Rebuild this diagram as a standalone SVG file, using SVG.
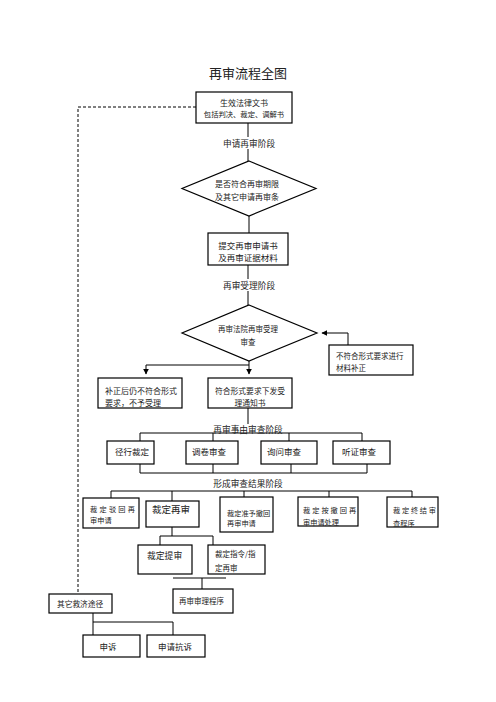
<svg xmlns="http://www.w3.org/2000/svg" width="496" height="702" viewBox="0 0 496 702">
<defs>
<marker id="arr" viewBox="0 0 10 10" refX="9" refY="5" markerWidth="6" markerHeight="6" markerUnits="userSpaceOnUse" orient="auto">
<path d="M0,0 L10,5 L0,10 Z" fill="#000"/>
</marker>
<style>
.box{fill:#fff;stroke:#000;stroke-width:1.2}
.ln{fill:none;stroke:#000;stroke-width:1}
.dash{fill:none;stroke:#000;stroke-width:1;stroke-dasharray:3,2}
text{font-family:"Noto Sans CJK SC","Noto Sans",sans-serif;fill:#222;dominant-baseline:central}
.c{text-anchor:middle}
</style>
</defs>
<rect width="496" height="702" fill="#fff"/>
<text x="248" y="72" class="c" font-size="13" fill="#111">再审流程全图</text>

<g id="connectors">
<path class="dash" d="M196 107 H78 V594"/>
<path class="ln" d="M248 123 V137 M248 149 V161"/>
<path class="ln" d="M249 216 V233"/>
<path class="ln" d="M248 265 V279 M248 291 V305"/>
<path class="ln" d="M348 345 V333 H322" marker-end="url(#arr)"/>
<path class="ln" d="M249 365 H146 V374" marker-end="url(#arr)"/>
<path class="ln" d="M249 361 V374" marker-end="url(#arr)"/>
<path class="ln" d="M248 408 V424"/>
<path class="ln" d="M140 441 V433 H362 V441 M213 433 V441 M289 433 V441"/>
<path class="ln" d="M140 464 V473 H367 V464 M213 464 V473 M291 464 V473"/>
<path class="ln" d="M111 498 V491 H412 V497 M172 491 V501 M244 491 V497 M329 491 V497"/>
<path class="ln" d="M172 527 V536 M160 545 V536 H213 V545"/>
<path class="ln" d="M173 578 H226 M202 578 V589"/>
<path class="ln" d="M93 613 V635 M93 622 H173 V635"/>
<text x="249" y="143" class="c" font-size="8.7">申请再审阶段</text>
<text x="249" y="285" class="c" font-size="8.7">再审受理阶段</text>
<text x="248" y="429" class="c" font-size="8.7">再审事由审查阶段</text>
<text x="248" y="483" class="c" font-size="8.7">形成审查结果阶段</text>
</g>

<g id="n-doc">
<rect class="box" x="196" y="92" width="96" height="31"/>
<text x="244" y="102" class="c" font-size="8">生效法律文书</text>
<text x="244" y="114" class="c" font-size="7.3">包括判决、裁定、调解书</text>
</g>

<g id="n-cond">
<polygon class="box" points="249,161 316,188.5 249,216 182,188.5"/>
<text x="247" y="183" class="c" font-size="8">是否符合再审期限</text>
<text x="247" y="196" class="c" font-size="8">及其它申请再审条</text>
</g>

<g id="n-submit">
<rect class="box" x="208" y="233" width="80" height="32"/>
<text x="248" y="245" class="c" font-size="8.5">提交再审申请书</text>
<text x="248" y="257" class="c" font-size="8.5">及再审证据材料</text>
</g>

<g id="n-review">
<polygon class="box" points="249,305 317,333 249,361 182,333"/>
<text x="248" y="328" class="c" font-size="7.5">再审法院再审受理</text>
<text x="248" y="341" class="c" font-size="7.5">审查</text>
</g>

<g id="n-correct">
<rect class="box" x="329" y="345" width="84" height="30"/>
<text x="336" y="355" font-size="7.5">不符合形式要求进行</text>
<text x="336" y="367" font-size="7.5">材料补正</text>
</g>

<g id="n-reject">
<rect class="box" x="98" y="378" width="84" height="30"/>
<text x="105" y="390" font-size="8">补正后仍不符合形式</text>
<text x="105" y="402" font-size="8">要求，不予受理</text>
</g>

<g id="n-accept">
<rect class="box" x="208" y="378" width="84" height="30"/>
<text x="250" y="390" class="c" font-size="7.8">符合形式要求下发受</text>
<text x="250" y="402" class="c" font-size="7.8">理通知书</text>
</g>

<g id="n-direct">
<rect class="box" x="107" y="441" width="47" height="23"/>
<text x="115" y="451" font-size="8.5">径行裁定</text>
</g>
<g id="n-files">
<rect class="box" x="186" y="441" width="52" height="23"/>
<text x="192" y="451" font-size="8.5">调卷审查</text>
</g>
<g id="n-inquiry">
<rect class="box" x="261" y="441" width="56" height="23"/>
<text x="267" y="451" font-size="8.5">询问审查</text>
</g>
<g id="n-hearing">
<rect class="box" x="333" y="441" width="57" height="23"/>
<text x="342" y="451" font-size="8.5">听证审查</text>
</g>

<g id="n-dismiss">
<rect class="box" x="83" y="498" width="56" height="30"/>
<text x="90" y="509" font-size="7.2" letter-spacing="2.25">裁定驳回再</text>
<text x="90" y="520" font-size="7.2">审申请</text>
</g>
<g id="n-retrial">
<rect class="box" x="146" y="501" width="53" height="26"/>
<text x="152" y="509" font-size="9.5">裁定再审</text>
</g>
<g id="n-withdraw">
<rect class="box" x="220" y="497" width="53" height="35"/>
<text x="227" y="513" font-size="7.2">裁定准予撤回</text>
<text x="227" y="523" font-size="7.2">再审申请</text>
</g>
<g id="n-deemed">
<rect class="box" x="298" y="497" width="60" height="29"/>
<text x="303" y="510" font-size="7.2" letter-spacing="2">裁定按撤回再</text>
<text x="303" y="522" font-size="7.2">审申请处理</text>
</g>
<g id="n-terminate">
<rect class="box" x="387" y="497" width="51" height="30"/>
<text x="393" y="510" font-size="7.2" letter-spacing="1.75">裁定终结审</text>
<text x="393" y="523" font-size="7.2">查程序</text>
</g>

<g id="n-bring">
<rect class="box" x="138" y="545" width="54" height="29"/>
<text x="147" y="555" font-size="8.8">裁定提审</text>
</g>
<g id="n-order">
<rect class="box" x="208" y="545" width="57" height="29"/>
<text x="215" y="553" font-size="7.5">裁定指令/指</text>
<text x="215" y="567" font-size="7.5">定再审</text>
</g>
<g id="n-proc">
<rect class="box" x="173" y="589" width="60" height="24"/>
<text x="179" y="600" font-size="7.5">再审审理程序</text>
</g>

<g id="n-other">
<rect class="box" x="49" y="594" width="63" height="19"/>
<text x="57" y="603" font-size="7.7">其它救济途径</text>
</g>
<g id="n-petition">
<rect class="box" x="83" y="635" width="57" height="22"/>
<text x="108" y="646" class="c" font-size="8.5">申诉</text>
</g>
<g id="n-protest">
<rect class="box" x="147" y="635" width="58" height="22"/>
<text x="175" y="646" class="c" font-size="8.5">申请抗诉</text>
</g>
</svg>
